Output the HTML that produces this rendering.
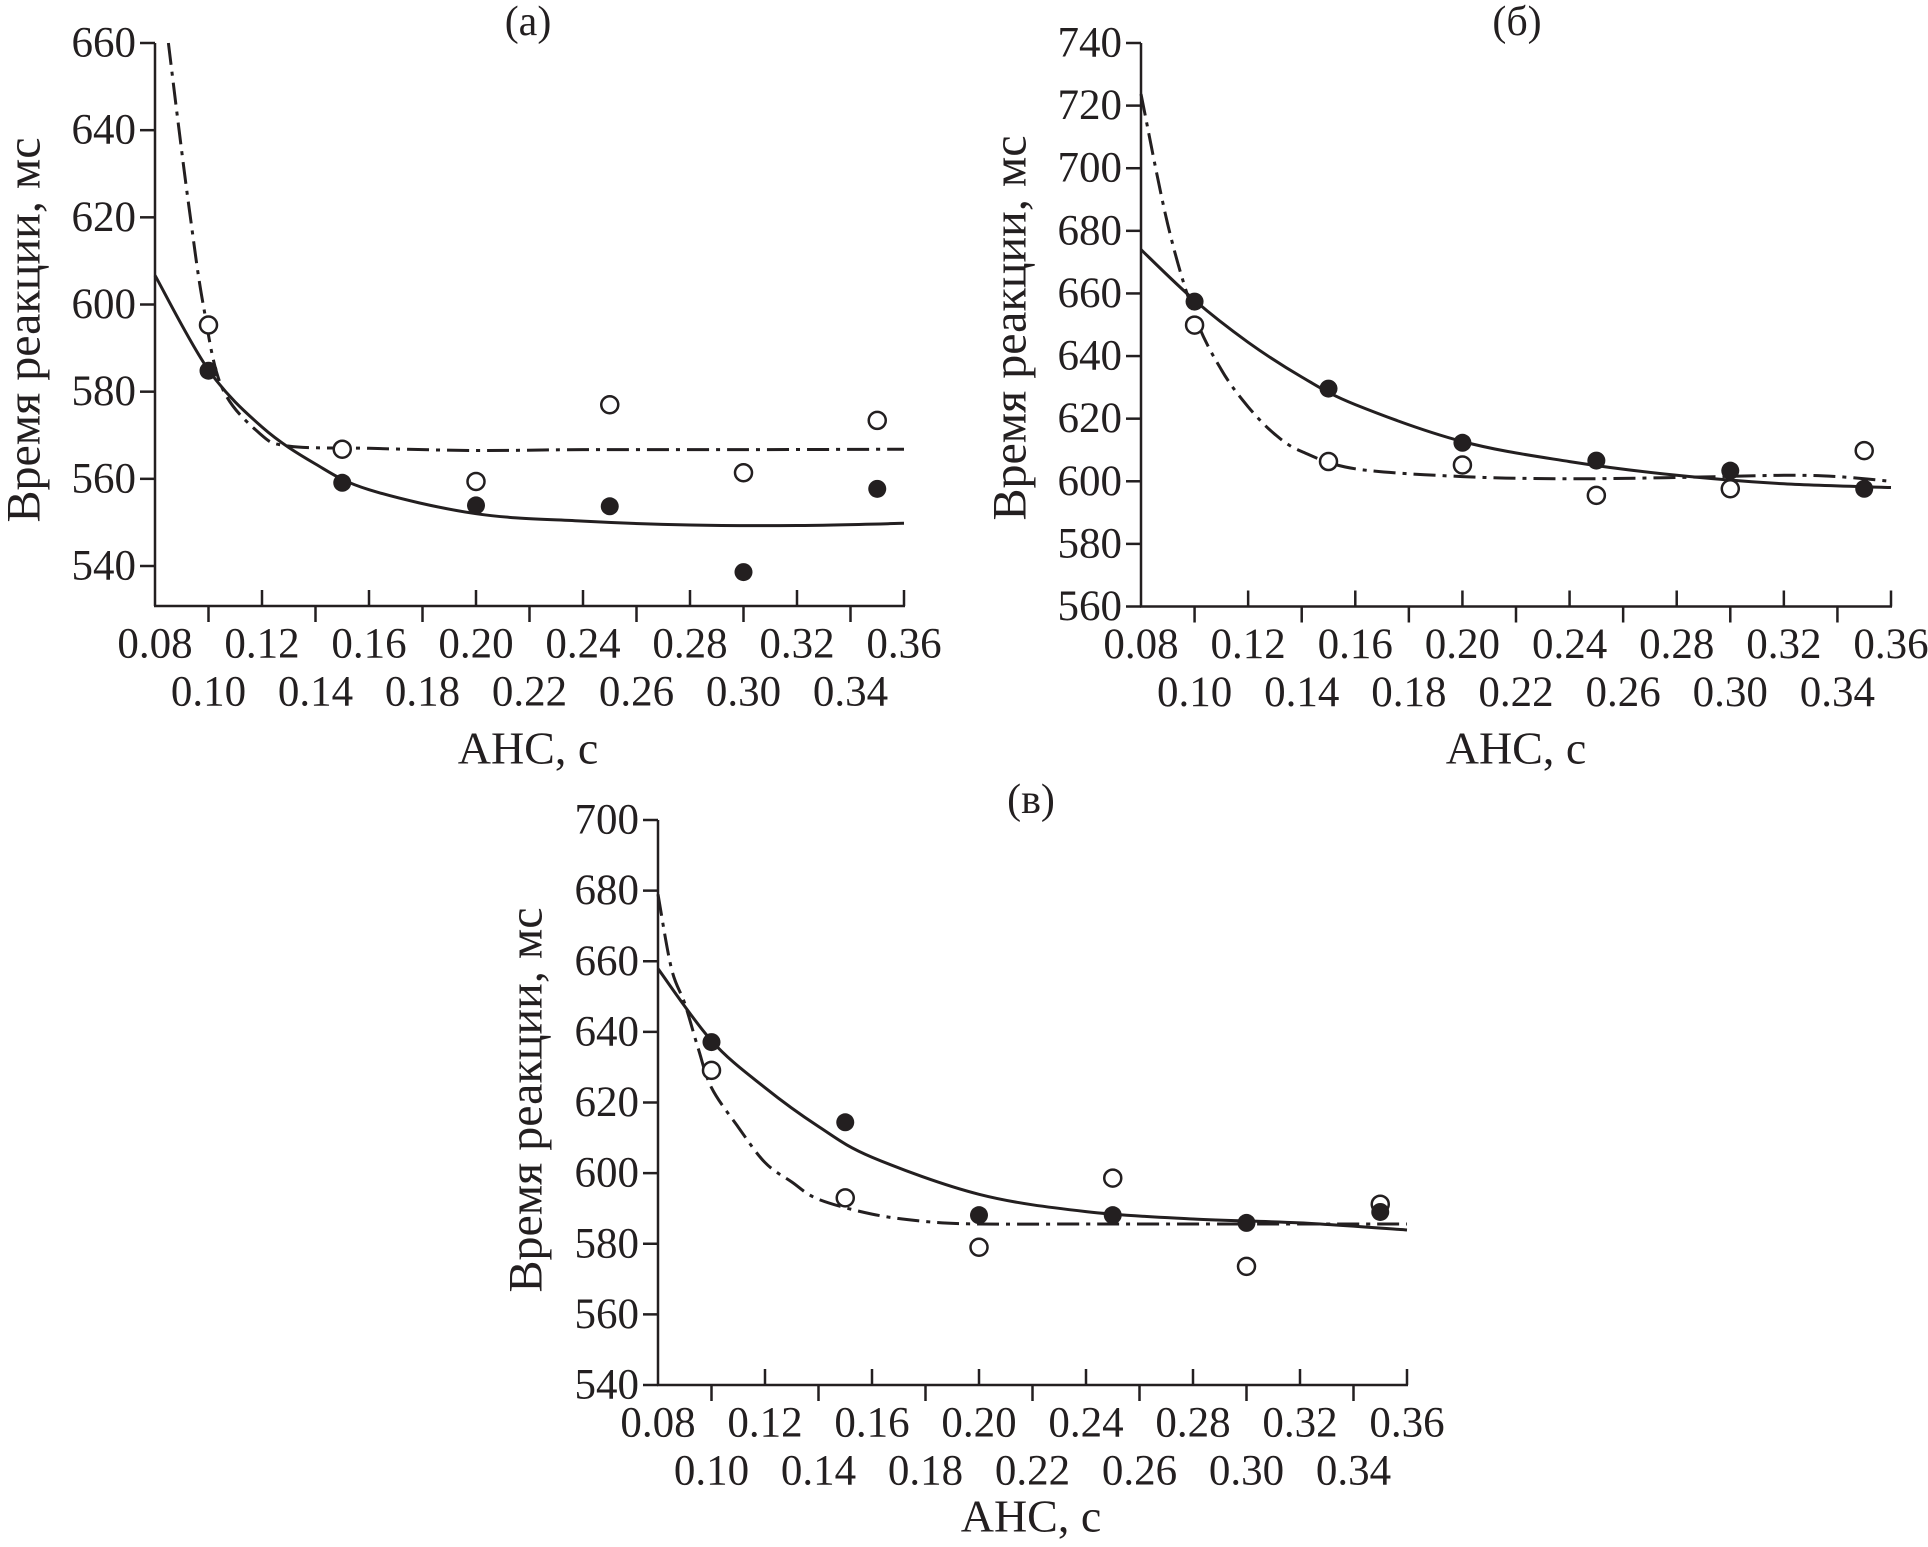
<!DOCTYPE html>
<html><head><meta charset="utf-8"><style>
html,body{margin:0;padding:0;background:#fff;}
svg{display:block;}
text{font-family:"Liberation Serif",serif;fill:#231f20;}
</style></head><body>
<svg id="chart" width="1928" height="1547" viewBox="0 0 1928 1547" xmlns="http://www.w3.org/2000/svg"></svg>
<script>
// ---- shared data ----
const aheValues = [0.10, 0.15, 0.20, 0.25, 0.30, 0.35];
const xTicksTop = ["0.08","0.12","0.16","0.20","0.24","0.28","0.32","0.36"];
const xTicksBottom = ["0.10","0.14","0.18","0.22","0.26","0.30","0.34"];
// panel a
const aTicks = [540,560,580,600,620,640,660];
const aFilled = [584.8, 559.1, 553.9, 553.7, 538.6, 557.7];
const aOpen = [595.3, 566.8, 559.4, 577.0, 561.4, 573.4];
const aSolidX = [0.08,0.10,0.12,0.14,0.16,0.20,0.24,0.28,0.32,0.36];
const aSolidY = [606.7,585,571.9,563.4,557.5,552,550.3,549.4,549.3,549.8];
const aDashX = [0.085,0.089,0.093,0.098,0.105,0.119,0.13,0.16,0.20,0.24,0.30,0.36];
const aDashY = [660,640,621,600,581,570.5,567.5,567,566.5,566.7,566.7,566.8];
// panel б
const bTicks = [560,580,600,620,640,660,680,700,720,740];
const bFilled = [657.4, 629.6, 612.3, 606.6, 603.4, 597.6];
const bOpen = [649.9, 606.3, 605.2, 595.5, 597.6, 609.8];
const bSolidX = [0.08,0.10,0.12,0.14,0.16,0.20,0.24,0.28,0.32,0.36];
const bSolidY = [674,657.8,644.4,633.3,624.5,612.7,606.3,601.9,599.2,598];
const bDashX = [0.08,0.09,0.10,0.11,0.12,0.13,0.14,0.16,0.20,0.24,0.28,0.32,0.34,0.36];
const bDashY = [723.7,682,653,635.6,623.8,615,609.5,604,601.5,600.8,601.2,601.9,601.5,600];
// panel в
const cTicks = [540,560,580,600,620,640,660,680,700];
const cFilled = [637.1, 614.4, 588.1, 588.1, 585.9, 589.0];
const cOpen = [629.1, 593.0, 579.0, 598.6, 573.6, 591.2];
const cSolidX = [0.08,0.10,0.12,0.14,0.16,0.20,0.24,0.28,0.32,0.36];
const cSolidY = [657.9,637.5,624.2,613.2,604.5,594,589.1,587,585.9,583.9];
const cDashX = [0.08,0.085,0.09,0.095,0.10,0.11,0.12,0.13,0.14,0.16,0.18,0.20,0.24,0.28,0.36];
const cDashY = [679,658,648,635.4,624.2,613,603,597.5,592.6,588.4,586.3,585.6,585.6,585.6,585.6];

const NS = "http://www.w3.org/2000/svg";
const svg = document.getElementById("chart");
function mk(tag, attrs, parent){
  const e = document.createElementNS(NS, tag);
  for (const k in attrs) e.setAttribute(k, attrs[k]);
  (parent||svg).appendChild(e);
  return e;
}
function smoothPath(pts){
  let d = "M" + pts[0][0].toFixed(1) + "," + pts[0][1].toFixed(1);
  for (let i=0;i<pts.length-1;i++){
    const p0 = pts[i-1]||pts[i], p1 = pts[i], p2 = pts[i+1], p3 = pts[i+2]||p2;
    const c1x = p1[0]+(p2[0]-p0[0])/6, c1y = p1[1]+(p2[1]-p0[1])/6;
    const c2x = p2[0]-(p3[0]-p1[0])/6, c2y = p2[1]-(p3[1]-p1[1])/6;
    d += " C"+c1x.toFixed(1)+","+c1y.toFixed(1)+" "+c2x.toFixed(1)+","+c2y.toFixed(1)+" "+p2[0].toFixed(1)+","+p2[1].toFixed(1);
  }
  return d;
}
const FS = 43;
function panel(cfg){
  const g = mk("g", {});
  
  
  const yMin = cfg.ticks[0], yMax = cfg.ticks[cfg.ticks.length-1];
  const xs = v => cfg.x0 + (v-0.08)/(0.36-0.08)*(cfg.x1-cfg.x0);
  const ys = v => cfg.yTop + (yMax-v)/(yMax-yMin)*(cfg.yLow-cfg.yTop);
  const axisY = cfg.axisY;
  const yAxis = mk("line", {x1:cfg.x0, y1:cfg.yTop, x2:cfg.x0, y2:axisY, stroke:"#231f20","stroke-width":2.5}, g);
  
  
  const xAxis = mk("line", {x1:cfg.x0-1, y1:axisY, x2:cfg.x1+1, y2:axisY, stroke:"#231f20","stroke-width":2.5}, g);
  
  
  cfg.ticks.forEach(t=>{
    const y = ys(t);
    mk("line",{x1:cfg.x0-15,y1:y,x2:cfg.x0,y2:y,stroke:"#231f20","stroke-width":2.5},g);
    const tx = mk("text",{x:cfg.x0-19,y:y,"text-anchor":"end","dominant-baseline":"central","font-size":FS},g);
    
    
    tx.textContent = t;
  });
  xTicksTop.forEach(l=>{
    const x = xs(parseFloat(l));
    if (l!=="0.08") mk("line",{x1:x,y1:axisY-16,x2:x,y2:axisY,stroke:"#231f20","stroke-width":2.5},g);
    const tx = mk("text",{x:x,y:axisY+38,"text-anchor":"middle","dominant-baseline":"central","font-size":FS},g);
    
    
    tx.textContent = l;
  });
  xTicksBottom.forEach(l=>{
    const x = xs(parseFloat(l));
    mk("line",{x1:x,y1:axisY,x2:x,y2:axisY+16,stroke:"#231f20","stroke-width":2.5},g);
    const tx = mk("text",{x:x,y:axisY+86,"text-anchor":"middle","dominant-baseline":"central","font-size":FS},g);
    
    
    tx.textContent = l;
  });
  const xt = mk("text",{x:cfg.xTitleX,y:cfg.xTitleY,"text-anchor":"middle","dominant-baseline":"central","font-size":46},g);
  
  
  xt.textContent = "АНС, с";
  const yt = mk("text",{x:0,y:0,"text-anchor":"middle","dominant-baseline":"central","font-size":48,transform:"translate("+cfg.yTitleX+","+cfg.yTitleY+") rotate(-90)"},g);
  
  
  yt.textContent = "Время реакции, мс";
  const tt = mk("text",{x:cfg.titleX,y:cfg.titleY,"text-anchor":"middle","dominant-baseline":"central","font-size":42},g);
  
  
  tt.textContent = cfg.title;
  const solid = mk("path",{d:smoothPath(cfg.sx.map((v,i)=>[xs(v),ys(cfg.sy[i])])),fill:"none",stroke:"#231f20","stroke-width":3},g);
  
  
  const dash = mk("path",{d:smoothPath(cfg.dx.map((v,i)=>[xs(v),ys(cfg.dy[i])])),fill:"none",stroke:"#231f20","stroke-width":3,"stroke-dasharray":"22 7 4 7"},g);
  
  
  aheValues.forEach((v,i)=>{
    const o = mk("circle",{cx:xs(v),cy:ys(cfg.open[i]),r:8.5,fill:"#fff",stroke:"#231f20","stroke-width":2.5},g);
    
    
  });
  aheValues.forEach((v,i)=>{
    const f = mk("circle",{cx:xs(v),cy:ys(cfg.filled[i]),r:9,fill:"#231f20"},g);
    
    
  });
}
panel({name:"panel-a",title:"(a)",ticks:aTicks,filled:aFilled,open:aOpen,sx:aSolidX,sy:aSolidY,dx:aDashX,dy:aDashY,
  x0:155,x1:904,yTop:43,yLow:566,axisY:606,titleX:528,titleY:22,xTitleX:528,xTitleY:748,yTitleX:24,yTitleY:330});
panel({name:"panel-b",title:"(б)",ticks:bTicks,filled:bFilled,open:bOpen,sx:bSolidX,sy:bSolidY,dx:bDashX,dy:bDashY,
  x0:1141,x1:1891,yTop:43,yLow:606.5,axisY:606.5,titleX:1517,titleY:22,xTitleX:1516,xTitleY:748,yTitleX:1010,yTitleY:328});
panel({name:"panel-v",title:"(в)",ticks:cTicks,filled:cFilled,open:cOpen,sx:cSolidX,sy:cSolidY,dx:cDashX,dy:cDashY,
  x0:658,x1:1407,yTop:820,yLow:1385,axisY:1385,titleX:1031,titleY:800,xTitleX:1031,xTitleY:1516,yTitleX:526,yTitleY:1100});
</script>
</body></html>
